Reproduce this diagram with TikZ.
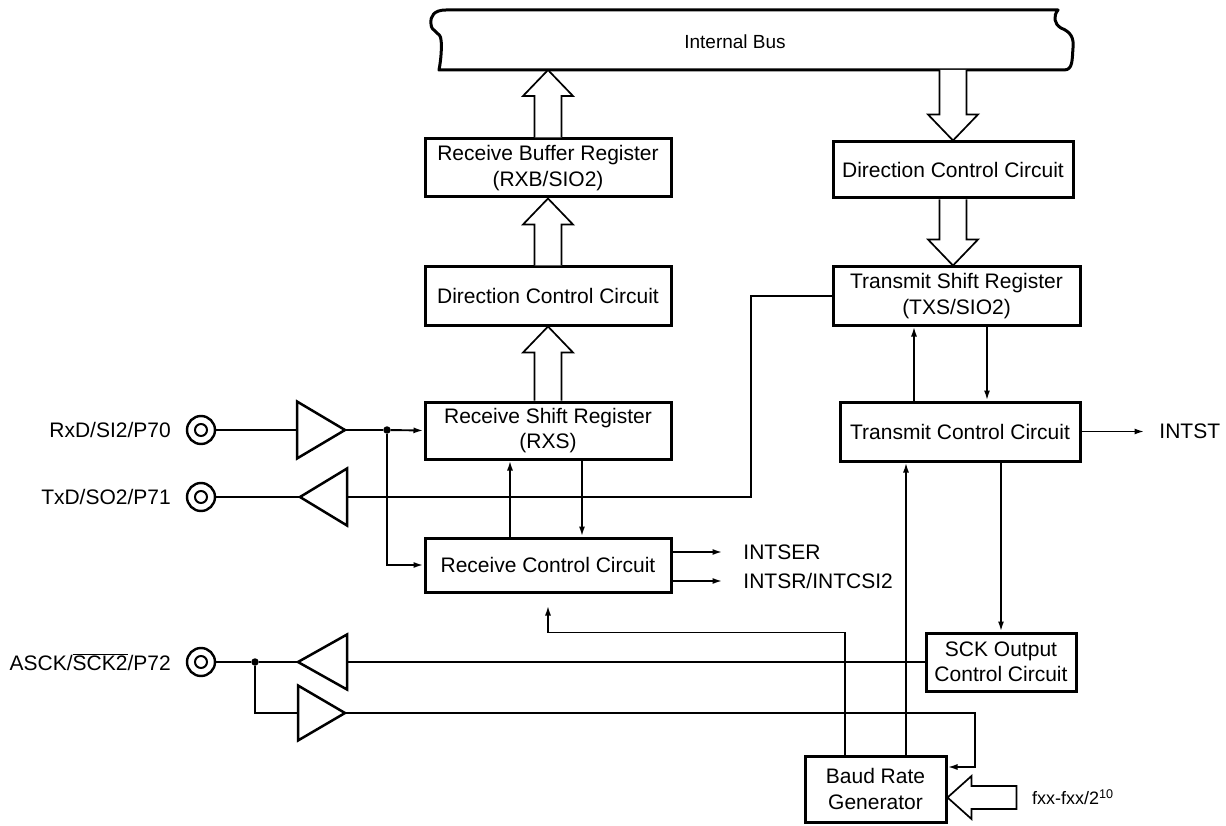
\documentclass[tikz,border=0pt]{standalone}
\usepackage{fontspec}
\setmainfont{Liberation Sans}
\usetikzlibrary{arrows.meta,calc}
\newcommand\fatvert[2]{%
  \draw[hollow] let \p1=(#1), \p2=(#2), \n1={ifthenelse(\y2>\y1,1,-1)}, \n2={\y2-(\n1)*26pt} in
   ({\x1-13.5pt},\y1) -- ({\x1-13.5pt},\n2) -- ({\x1-25pt},\n2) -- (\x1,\y2)
   -- ({\x1+25pt},\n2) -- ({\x1+13.5pt},\n2) -- ({\x1+13.5pt},\y1);}
\begin{document}
\begin{tikzpicture}[x=1pt,y=-1pt,
  box/.style={draw, line width=3pt, align=center, inner sep=0pt, font=\fontsize{21}{25.5}\selectfont},
  wire/.style={line width=1.9pt},
  sig/.style={wire, -{Latex[length=10pt,width=6pt]}},
  hollow/.style={line width=1.7pt, fill=white, line join=miter},
  lbl/.style={font=\fontsize{21}{25}\selectfont, inner sep=0pt},
  pad/.style={circle, draw, line width=2.4pt, minimum size=28pt, inner sep=0pt},
  dot/.style={circle, fill, minimum size=7.5pt, inner sep=0pt},
  buf/.style={line width=2.5pt, line join=miter},
]
\useasboundingbox (0,0) rectangle (1226,826);

% internal bus
\draw[line width=3pt, line join=round]
  (446,10) -- (1058,10) .. controls (1053,16) and (1054,24) .. (1061,28)
  .. controls (1071,32) and (1074,38) .. (1073,48)
  .. controls (1072,60) and (1073,70) .. (1064,70) -- (439,70)
  .. controls (441,60) and (442,46) .. (441,40)
  .. controls (441,32) and (431,32) .. (431,24)
  .. controls (430,16) and (434,10) .. (446,10) -- cycle;
\node[lbl, font=\fontsize{19}{22}\selectfont] (bus) at (735,42) {Internal Bus};
\coordinate (busL) at (548,70);
\coordinate (busR) at (953,70);

% boxes
\node[box, minimum width=246pt, minimum height=58pt] (rxb) at (548,168) {Receive Buffer Register\\(RXB/SIO2)};
\node[box, minimum width=246pt, minimum height=58pt] (dcl) at (548,296) {Direction Control Circuit};
\node[box, minimum width=246pt, minimum height=57pt] (rsr) at (548,430.5) {Receive Shift Register\\(RXS)};
\node[box, minimum width=246pt, minimum height=54pt] (rcc) at (548,565) {Receive Control Circuit};
\node[box, minimum width=240pt, minimum height=56pt] (dcr) at (953,170) {Direction Control Circuit};
\node[box, minimum width=247pt, minimum height=58pt] (txs) at (956.5,296) {Transmit Shift Register\\(TXS/SIO2)};
\node[box, minimum width=240pt, minimum height=59pt] (tcc) at (960,431.5) {Transmit Control Circuit};
\node[box, minimum width=150pt, minimum height=58pt] (sck) at (1001,662) {SCK Output\\Control Circuit};
\node[box, minimum width=141pt, minimum height=66pt] (brg) at (875.5,789) {Baud Rate\\Generator};

% block arrows
\fatvert{rxb.north}{busL}
\fatvert{dcl.north}{rxb.south}
\fatvert{rsr.north}{dcl.south}
\fatvert{busR}{dcr.north}
\fatvert{dcr.south}{txs.north}
\draw[hollow] let \p1=([yshift=-8.5pt]brg.east) in (\p1) -- ({\x1+24pt},{\y1+21.5pt}) -- ({\x1+24pt},{\y1+11.5pt})
  -- ({\x1+69pt},{\y1+11.5pt}) -- ({\x1+69pt},{\y1-11.5pt}) -- ({\x1+24pt},{\y1-11.5pt}) -- ({\x1+24pt},{\y1-21.5pt}) -- cycle;
\node[inner sep=0pt, anchor=west, font=\fontsize{18}{20}\selectfont] (fxx) at (1032,797) {fxx-fxx/2\textsuperscript{10}};

% pads and labels
\node[pad] (p1) at (201,430) {};
\node[pad] (p2) at (201,497) {};
\node[pad] (p3) at (201,662) {};
\foreach \p in {p1,p2,p3} \draw[line width=2pt] (\p.center) circle[radius=6pt];
\node[lbl, anchor=east] (l1) at (171,430) {RxD/SI2/P70};
\node[lbl, anchor=east] (l2) at (171,497) {TxD/SO2/P71};
\node[lbl, anchor=east] (l3) at (171,662) {ASCK/$\overline{\mbox{SCK2}}$/P72};

% buffers
\coordinate (t1b) at (297,430); \coordinate (t1a) at (345,430);
\coordinate (t2b) at (347,497); \coordinate (t2a) at (300,497);
\coordinate (t3b) at (347,662); \coordinate (t3a) at (298,662);
\coordinate (t4b) at (298,713); \coordinate (t4a) at (345,713);
\draw[buf] (297,401.5) -- (t1a) -- (297,458.5) -- cycle;
\draw[buf] (347,468.5) -- (t2a) -- (347,525.5) -- cycle;
\draw[buf] (347,634.5) -- (t3a) -- (347,689.5) -- cycle;
\draw[buf] (298,685.5) -- (t4a) -- (298,740.5) -- cycle;

% junctions
\node[dot] (j1) at (387,430) {};
\node[dot] (j2) at (255,662) {};
\coordinate (k1) at (751,497);
\coordinate (c2) at (975,713);

% wiring
\draw[wire] (p1.east) -- (t1b);
\draw[wire] (t1a) -- (j1);
\draw[sig] (j1) -- (rsr.west);
\draw[sig] (j1) |- (rcc.west);
\draw[wire] (txs.west) -| (k1) -- (t2b);
\draw[wire] (t2a) -- (p2.east);
\draw[sig] ([xshift=-38pt]rcc.north) -- ([xshift=-38pt]rsr.south);
\draw[sig] ([xshift=34pt]rsr.south) -- ([xshift=34pt]rcc.north);
\draw[sig] ([yshift=13pt]rcc.east) -- ++(50,0) node[lbl, anchor=west, xshift=20pt] (intser) {INTSER};
\draw[sig] ([yshift=-16pt]rcc.east) -- ++(50,0) node[lbl, anchor=west, xshift=20pt] (intsr) {INTSR/INTCSI2};
\draw[sig] ([xshift=-30.5pt]brg.north) -- ++(0,-122) -| ([yshift=-12pt]rcc.south);
\draw[sig] ([xshift=30.5pt]brg.north) -- ([xshift=30.5pt]brg.north |- tcc.south);
\draw[sig] (tcc.east) -- ++(63,0) node[lbl, anchor=west, xshift=14pt] (intst) {INTST};
\draw[sig] ([xshift=-46pt]tcc.north) -- ([xshift=-46pt]tcc.north |- txs.south);
\draw[sig] ([xshift=27pt]tcc.north |- txs.south) -- ([xshift=27pt]tcc.north);
\draw[sig] (tcc.south -| sck.north) -- (sck.north);
\draw[wire] (sck.west) -- (t3b);
\draw[wire] (t3a) -- (j2) -- (p3.east);
\draw[wire] (j2) |- (t4b);
\draw[sig] (t4a) -- (c2) |- ([yshift=22pt]brg.east);
\end{tikzpicture}
\end{document}
